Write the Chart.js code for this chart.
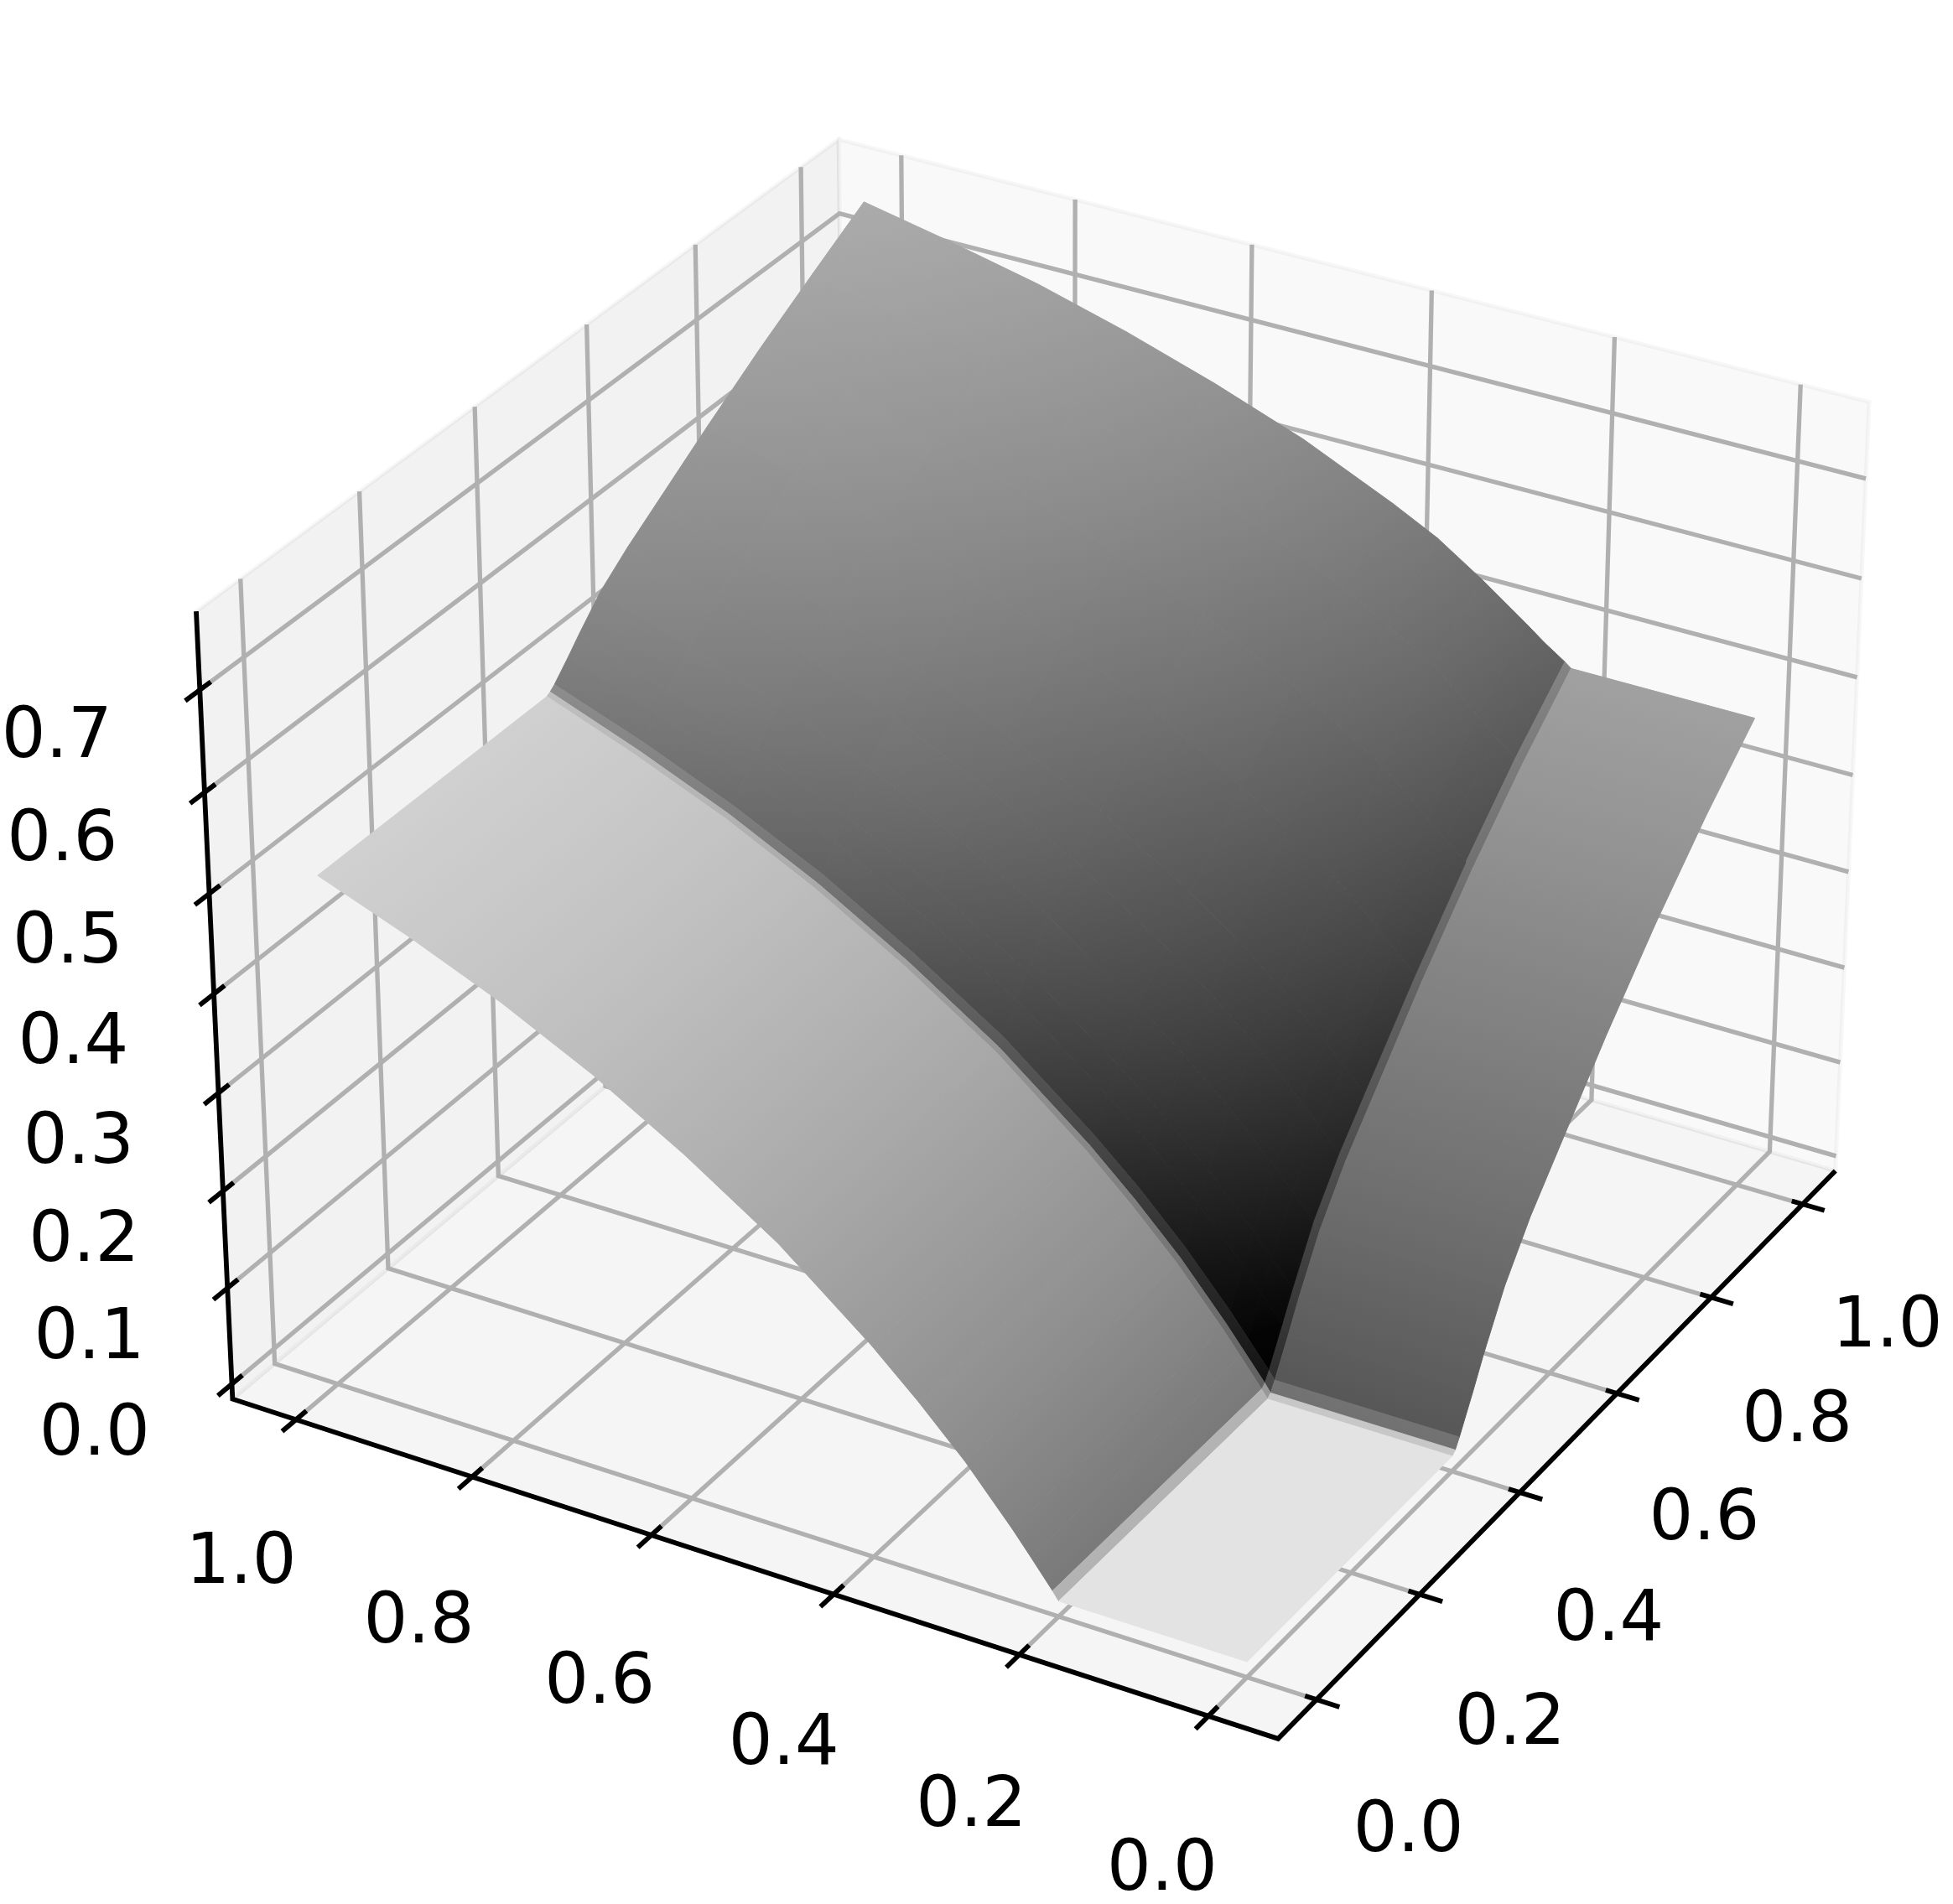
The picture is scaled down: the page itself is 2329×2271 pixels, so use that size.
<!DOCTYPE html>
<html>
<head>
<meta charset="utf-8">
<title>Surface</title>
<script src="https://cdn.jsdelivr.net/npm/chart.js@4/dist/chart.umd.min.js"></script>
<style>
  html, body { margin: 0; padding: 0; background: #fff; }
  canvas { display: block; }
</style>
</head>
<body>
<canvas id="chart" width="2329" height="2271"></canvas>
<script>
// tick values and their labels
const xTicks = [0, 0.2, 0.4, 0.6, 0.8, 1];
const yTicks = [0, 0.2, 0.4, 0.6, 0.8, 1];
const zTicks = [0, 0.1, 0.2, 0.3, 0.4, 0.5, 0.6, 0.7];
const xLabels = ["0.0", "0.2", "0.4", "0.6", "0.8", "1.0"];
const yLabels = ["0.0", "0.2", "0.4", "0.6", "0.8", "1.0"];
const zLabels = ["0.0", "0.1", "0.2", "0.3", "0.4", "0.5", "0.6", "0.7"];

// axis extents, panes included
const xLim = [-0.0729, 1.0729];
const yLim = [-0.0729, 1.0729];
const zLim = [-0.0158, 0.776];

// surface nodes, one row of heights per yNodes entry
const xNodes = [0, 0.4, 0.406, 0.414, 0.44, 0.46, 0.5, 0.55, 0.6, 0.7, 0.8, 0.9, 1];
const yNodes = [0, 0.2, 0.207, 0.23, 0.25, 0.3, 0.35, 0.4, 0.5, 0.6, 0.7, 0.8, 0.9, 1];
const surfaceZ = [
  [0, 0, 0.0034, 0.0126, 0.047, 0.075, 0.125, 0.172, 0.21, 0.286, 0.355, 0.417, 0.472],
  [0, 0, 0.0034, 0.0126, 0.047, 0.075, 0.125, 0.172, 0.21, 0.286, 0.355, 0.417, 0.472],
  [0.009, 0.009, 0.0124, 0.0215, 0.056, 0.083, 0.133, 0.179, 0.217, 0.292, 0.361, 0.423, 0.477],
  [0.036, 0.036, 0.039, 0.048, 0.081, 0.108, 0.157, 0.202, 0.238, 0.311, 0.378, 0.438, 0.491],
  [0.059, 0.059, 0.062, 0.071, 0.104, 0.13, 0.177, 0.221, 0.257, 0.33, 0.395, 0.456, 0.505],
  [0.112, 0.112, 0.115, 0.123, 0.154, 0.179, 0.224, 0.266, 0.3, 0.37, 0.435, 0.495, 0.538],
  [0.158, 0.158, 0.161, 0.169, 0.198, 0.221, 0.264, 0.304, 0.337, 0.403, 0.465, 0.522, 0.568],
  [0.2, 0.2, 0.203, 0.21, 0.238, 0.26, 0.301, 0.339, 0.37, 0.433, 0.492, 0.547, 0.591],
  [0.274, 0.274, 0.276, 0.283, 0.308, 0.328, 0.366, 0.4, 0.428, 0.486, 0.54, 0.59, 0.632],
  [0.334, 0.334, 0.336, 0.342, 0.365, 0.384, 0.418, 0.45, 0.476, 0.529, 0.578, 0.625, 0.665],
  [0.387, 0.387, 0.389, 0.395, 0.416, 0.433, 0.465, 0.493, 0.518, 0.567, 0.613, 0.656, 0.694],
  [0.432, 0.432, 0.434, 0.439, 0.459, 0.475, 0.504, 0.531, 0.553, 0.599, 0.642, 0.682, 0.719],
  [0.47, 0.47, 0.472, 0.477, 0.495, 0.51, 0.537, 0.562, 0.583, 0.626, 0.666, 0.704, 0.739],
  [0.504, 0.504, 0.506, 0.51, 0.527, 0.541, 0.567, 0.59, 0.61, 0.65, 0.688, 0.723, 0.757],
];

// camera, as in a matplotlib 3d axes
const elev = 30 * Math.PI / 180;
const azim = -150 * Math.PI / 180;
const dist = 10;
const boxHalf = [0.5715, 0.5715, 0.4285];
const pxPerUnit = 12500;
const originX = 1250;
const originY = 1076;

const FONT = '83px "DejaVu Sans"';
const GRID = "#b0b0b0";
const GRID_WIDTH = 5.3;
const AXIS_WIDTH = 5.8;

const view = [Math.cos(elev) * Math.cos(azim), Math.cos(elev) * Math.sin(azim), Math.sin(elev)];
const right = [-Math.sin(azim), Math.cos(azim), 0];
const up = [
  view[1] * right[2] - view[2] * right[1],
  view[2] * right[0] - view[0] * right[2],
  view[0] * right[1] - view[1] * right[0],
];

function toBox(v, lim, half) {
  return -half + 2 * half * (v - lim[0]) / (lim[1] - lim[0]);
}

function project(x, y, z) {
  const p = [toBox(x, xLim, boxHalf[0]), toBox(y, yLim, boxHalf[1]), toBox(z, zLim, boxHalf[2])];
  const u = p[0] * right[0] + p[1] * right[1];
  const v = p[0] * up[0] + p[1] * up[1] + p[2] * up[2];
  const d = p[0] * view[0] + p[1] * view[1] + p[2] * view[2];
  return { x: u / (dist - d), y: v / (dist - d), depth: d };
}

function lineSet(points, color, width) {
  return {
    data: points.map((p) => project(p[0], p[1], p[2])),
    showLine: true, pointRadius: 0, fill: false,
    borderColor: color, borderWidth: width,
  };
}

function paneSet(points, fillColor) {
  const set = lineSet(points.concat([points[0]]), "rgba(0,0,0,0.03)", 5);
  set.fill = "shape";
  set.backgroundColor = fillColor;
  return set;
}

// gray level of a surface node; wx, wy blend across the creases
function grayAt(wx, wy, x, y, z) {
  const flat = 227;
  const strip1 = 120 + 175 * z;
  const strip2 = 85 + 160 * z;
  const main = 296 * z - 79 * z * z + 11 * (y - x) - 15 * (x - y) * (x - y) - 8;
  return (1 - wx) * (1 - wy) * flat + wx * (1 - wy) * strip2 + (1 - wx) * wy * strip1 + wx * wy * main;
}
const colWeight = (i) => (i === 0 ? 0 : i === 1 ? 0.2 : i === 2 ? 0.8 : 1);
const rowWeight = (j) => (j === 0 ? 0 : j === 1 ? 0.45 : 1);
const grayCss = (g) => {
  const c = Math.max(0, Math.min(255, Math.round(g)));
  return `rgb(${c},${c},${c})`;
};

// linear gradient that fits the four corner grays of a cell
function cellPaint(chart, corners, grays) {
  const mean = (grays[0] + grays[1] + grays[2] + grays[3]) / 4;
  const sx = chart.scales.x;
  const sy = chart.scales.y;
  if (!sx || !sy) return grayCss(mean);
  const pts = corners.map((c) => [sx.getPixelForValue(c.x), sy.getPixelForValue(c.y)]);
  if (!pts.every((p) => Number.isFinite(p[0]) && Number.isFinite(p[1]))) return grayCss(mean);
  const a = [(pts[1][0] + pts[2][0] - pts[0][0] - pts[3][0]) / 2, (pts[1][1] + pts[2][1] - pts[0][1] - pts[3][1]) / 2];
  const b = [(pts[3][0] + pts[2][0] - pts[0][0] - pts[1][0]) / 2, (pts[3][1] + pts[2][1] - pts[0][1] - pts[1][1]) / 2];
  const ga = (grays[1] + grays[2] - grays[0] - grays[3]) / 2;
  const gb = (grays[3] + grays[2] - grays[0] - grays[1]) / 2;
  const det = a[0] * b[1] - a[1] * b[0];
  if (Math.abs(det) < 1e-6) return grayCss(mean);
  const wx = (ga * b[1] - gb * a[1]) / det;
  const wy = (a[0] * gb - b[0] * ga) / det;
  const s = Math.hypot(wx, wy);
  if (s < 1e-6) return grayCss(mean);
  const cx = (pts[0][0] + pts[1][0] + pts[2][0] + pts[3][0]) / 4;
  const cy = (pts[0][1] + pts[1][1] + pts[2][1] + pts[3][1]) / 4;
  const reach = Math.hypot(a[0], a[1]) + Math.hypot(b[0], b[1]);
  const dx = wx / s * reach;
  const dy = wy / s * reach;
  const grad = chart.ctx.createLinearGradient(cx - dx, cy - dy, cx + dx, cy + dy);
  grad.addColorStop(0, grayCss(mean - s * reach));
  grad.addColorStop(0.5, grayCss(mean));
  grad.addColorStop(1, grayCss(mean + s * reach));
  return grad;
}

function surfaceSets() {
  const cells = [];
  for (let j = 0; j < yNodes.length - 1; j++) {
    for (let i = 0; i < xNodes.length - 1; i++) {
      const wx = colWeight(i);
      const wy = rowWeight(j);
      const nodes = [[i, j], [i + 1, j], [i + 1, j + 1], [i, j + 1]];
      const corners = nodes.map(([a, b]) => project(xNodes[a], yNodes[b], surfaceZ[b][a]));
      const grays = nodes.map(([a, b]) => grayAt(wx, wy, xNodes[a], yNodes[b], surfaceZ[b][a]));
      const depth = (corners[0].depth + corners[1].depth + corners[2].depth + corners[3].depth) / 4;
      const paint = (ctx) => cellPaint(ctx.chart, corners, grays);
      cells.push({
        depth,
        set: {
          data: corners.concat([corners[0]]),
          showLine: true, pointRadius: 0, fill: "shape",
          backgroundColor: paint, borderColor: paint, borderWidth: 1,
        },
      });
    }
  }
  cells.sort((p, q) => p.depth - q.depth);
  return cells.map((c) => c.set);
}

function gridSets() {
  const sets = [];
  xTicks.forEach((x) => {
    sets.push(lineSet([[x, yLim[0], zLim[0]], [x, yLim[1], zLim[0]], [x, yLim[1], zLim[1]]], GRID, GRID_WIDTH));
  });
  yTicks.forEach((y) => {
    sets.push(lineSet([[xLim[0], y, zLim[0]], [xLim[1], y, zLim[0]], [xLim[1], y, zLim[1]]], GRID, GRID_WIDTH));
  });
  zTicks.forEach((z) => {
    sets.push(lineSet([[xLim[0], yLim[1], z], [xLim[1], yLim[1], z], [xLim[1], yLim[0], z]], GRID, GRID_WIDTH));
  });
  return sets;
}

function axisSets() {
  const sets = [
    lineSet([[xLim[0], yLim[1], zLim[1]], [xLim[0], yLim[1], zLim[0]], [xLim[0], yLim[0], zLim[0]], [xLim[1], yLim[0], zLim[0]]], "#000", AXIS_WIDTH),
  ];
  yTicks.forEach((y) => {
    sets.push(lineSet([[xLim[0] + 0.018, y, zLim[0]], [xLim[0] - 0.024, y, zLim[0]]], "#000", AXIS_WIDTH));
  });
  xTicks.forEach((x) => {
    sets.push(lineSet([[x, yLim[0] + 0.012, zLim[0]], [x, yLim[0] - 0.024, zLim[0]]], "#000", AXIS_WIDTH));
  });
  zTicks.forEach((z) => {
    sets.push(lineSet([[xLim[0] + 0.018, yLim[1], z], [xLim[0] - 0.024, yLim[1], z]], "#000", AXIS_WIDTH));
  });
  return sets;
}

const tickText = {
  id: "tickText",
  afterDatasetsDraw(chart) {
    const { ctx, scales } = chart;
    const put = (text, x, y, z) => {
      const p = project(x, y, z);
      ctx.fillText(text, scales.x.getPixelForValue(p.x), scales.y.getPixelForValue(p.y));
    };
    ctx.save();
    ctx.font = FONT;
    ctx.fillStyle = "#000";
    ctx.textAlign = "center";
    ctx.textBaseline = "middle";
    xTicks.forEach((x, i) => put(xLabels[i], x, yLim[0] - 0.098, zLim[0] - 0.1055));
    yTicks.forEach((y, i) => put(yLabels[i], xLim[0] - 0.0917, y * 1.011 - 0.004, zLim[0] - 0.107));
    zTicks.forEach((z, i) => put(zLabels[i], xLim[0] - 0.143, yLim[1] + 0.061, z));
    ctx.restore();
  },
};

const panes = [
  paneSet([[xLim[0], yLim[0], zLim[0]], [xLim[1], yLim[0], zLim[0]], [xLim[1], yLim[1], zLim[0]], [xLim[0], yLim[1], zLim[0]]], "#f5f5f5"),
  paneSet([[xLim[0], yLim[1], zLim[0]], [xLim[1], yLim[1], zLim[0]], [xLim[1], yLim[1], zLim[1]], [xLim[0], yLim[1], zLim[1]]], "#f2f2f2"),
  paneSet([[xLim[1], yLim[0], zLim[0]], [xLim[1], yLim[1], zLim[0]], [xLim[1], yLim[1], zLim[1]], [xLim[1], yLim[0], zLim[1]]], "#f9f9f9"),
];

const datasets = [...panes, ...gridSets(), ...surfaceSets(), ...axisSets()];
datasets.forEach((d, i) => { d.order = datasets.length - i; });

new Chart(document.getElementById("chart"), {
  type: "scatter",
  data: { datasets },
  plugins: [tickText],
  options: {
    responsive: false,
    animation: false,
    events: [],
    layout: { padding: 0 },
    plugins: { legend: { display: false }, tooltip: { enabled: false } },
    scales: {
      x: { type: "linear", display: false, min: -originX / pxPerUnit, max: (2329 - originX) / pxPerUnit },
      y: { type: "linear", display: false, min: (originY - 2271) / pxPerUnit, max: originY / pxPerUnit },
    },
  },
});
</script>
</body>
</html>
